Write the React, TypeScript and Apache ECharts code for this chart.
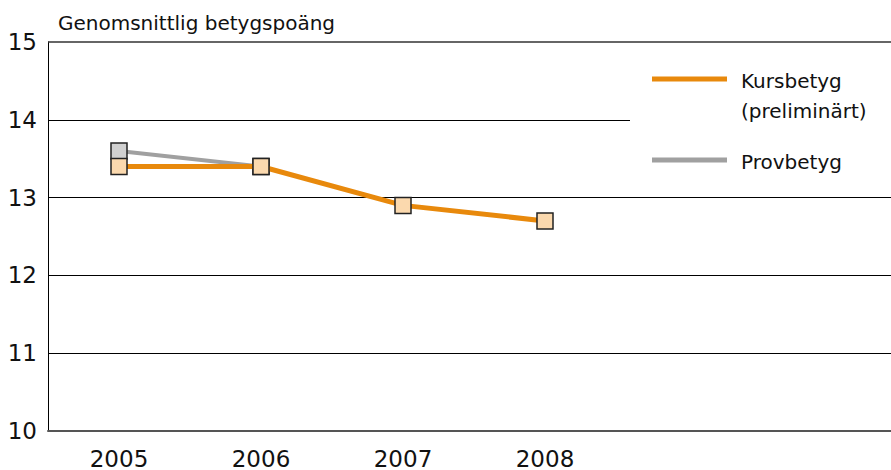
import React, { useEffect, useRef } from "react";
import * as echarts from "echarts";

const years = [2005, 2006, 2007, 2008];
const kursbetyg = [13.4, 13.4, 12.9, 12.7];
const provbetyg = [13.6, 13.4];
const yTicks = [10, 11, 12, 13, 14, 15];
const fullGridValues = [11, 12, 13, 15];
const shortGridValue = 14;

const X_MIN = 2004.5;
const X_MAX = 2004.5 + 843 / 142;
const X_SHORT_END = 2004.5 + (630 - 48) / 142;

export default function App() {
  const ref = useRef<HTMLDivElement>(null);
  useEffect(() => {
    if (!ref.current) return;
    const chart = echarts.init(ref.current, null, { renderer: "svg" });
    const font = "DejaVu Sans";
    const gridLines: any[] = fullGridValues.map((v) => [
      { coord: [X_MIN, v], lineStyle: { color: v === 15 ? "#333" : "#000", width: v === 15 ? 1.5 : 1, type: "solid" } },
      { coord: [X_MAX, v] },
    ]);
    gridLines.push([
      { coord: [X_MIN, shortGridValue], lineStyle: { color: "#000", width: 1, type: "solid" } },
      { coord: [X_SHORT_END, shortGridValue] },
    ]);
    chart.setOption({
      animation: false,
      textStyle: { fontFamily: font },
      grid: { left: 48, right: 0, top: 42, bottom: 35, containLabel: false },
      xAxis: {
        type: "value",
        min: X_MIN,
        max: X_MAX,
        splitLine: { show: false },
        axisTick: { show: false },
        axisLine: { show: true, onZero: false, lineStyle: { color: "#555", width: 2 } },
        axisLabel: {
          customValues: years,
          formatter: (v: number) => String(v),
          fontSize: 23,
          color: "#111",
          margin: 16,
          fontFamily: font,
        },
      },
      yAxis: {
        type: "value",
        min: 10,
        max: 15,
        interval: 1,
        splitLine: { show: false },
        axisTick: { show: false },
        axisLine: { show: true, lineStyle: { color: "#000", width: 1 } },
        axisLabel: {
          fontSize: 23,
          color: "#111",
          margin: 11,
          fontFamily: font,
          formatter: (v: number) => (yTicks.includes(v) ? String(v) : ""),
        },
      },
      graphic: [
        {
          type: "text",
          x: 58,
          y: 23,
          style: { text: "Genomsnittlig betygspoäng", font: `20px ${font}`, fill: "#111", verticalAlign: "middle" },
        },
        {
          type: "line",
          shape: { x1: 652, y1: 79, x2: 727, y2: 79 },
          style: { stroke: "#e8890c", lineWidth: 5 },
        },
        {
          type: "text",
          x: 741,
          y: 81,
          style: { text: "Kursbetyg", font: `20px ${font}`, fill: "#111", verticalAlign: "middle" },
        },
        {
          type: "text",
          x: 741,
          y: 111,
          style: { text: "(preliminärt)", font: `20px ${font}`, fill: "#111", verticalAlign: "middle" },
        },
        {
          type: "line",
          shape: { x1: 652, y1: 160, x2: 727, y2: 160 },
          style: { stroke: "#a0a0a0", lineWidth: 5 },
        },
        {
          type: "text",
          x: 741,
          y: 162,
          style: { text: "Provbetyg", font: `20px ${font}`, fill: "#111", verticalAlign: "middle" },
        },
      ],
      series: [
        {
          name: "Provbetyg",
          type: "line",
          z: 2,
          data: provbetyg.map((v, i) => [years[i], v]),
          lineStyle: { color: "#a0a0a0", width: 4 },
          symbol: "rect",
          symbolSize: 16,
          itemStyle: { color: "#d0d0d0", borderColor: "#222", borderWidth: 1.5 },
          markLine: {
            silent: true,
            symbol: "none",
            label: { show: false },
            data: gridLines,
            z: 1,
          },
        },
        {
          name: "Kursbetyg (preliminärt)",
          type: "line",
          z: 3,
          data: kursbetyg.map((v, i) => [years[i], v]),
          lineStyle: { color: "#e8890c", width: 5 },
          symbol: "rect",
          symbolSize: 16,
          itemStyle: { color: "#fbd9ae", borderColor: "#222", borderWidth: 1.5 },
        },
      ],
    });
    return () => chart.dispose();
  }, []);
  return (
    <div
      ref={ref}
      style={{ position: "fixed", left: 0, top: 0, width: 891, height: 470, background: "#fff" }}
    />
  );
}
